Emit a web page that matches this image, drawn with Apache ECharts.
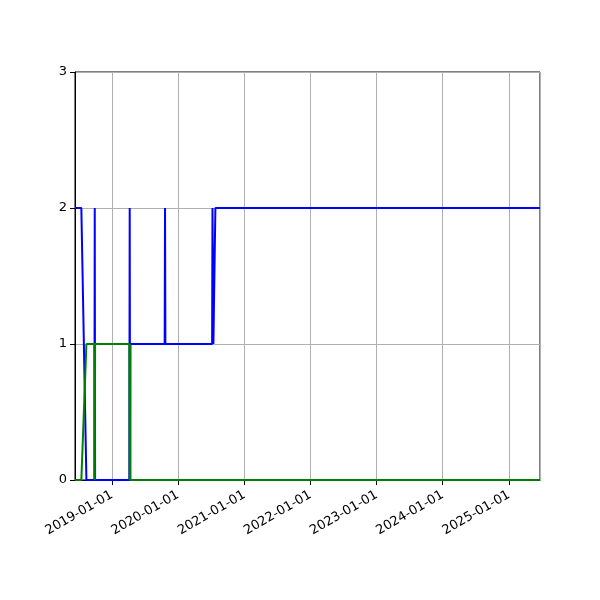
<!DOCTYPE html>
<html>
<head>
<meta charset="utf-8">
<script src="https://cdn.jsdelivr.net/npm/echarts@6/dist/echarts.min.js"></script>
<style>
  html, body { margin: 0; padding: 0; background: #fff; }
  #chart { width: 600px; height: 600px; }
</style>
</head>
<body>
<div id="chart"></div>
<script>
// dates shared by both lines
var dates = [
    '2018-06-11', '2018-07-16', '2018-08-13', '2018-09-26', '2018-09-28', '2018-09-30',
    '2019-04-07', '2019-04-09', '2019-04-11', '2019-04-13',
    '2019-10-19', '2019-10-21', '2019-10-23',
    '2020-07-07', '2020-07-09', '2020-07-14', '2020-07-22', '2020-07-25',
    '2025-06-21'
];
var blueValues  = [2, 2, 0, 0, 2, 0, 0, 2, 0, 1, 1, 2, 1, 1, 2, 1, 1, 2, 2];
var greenValues = [0, 0, 1, 1, 0, 1, 1, 0, 1, 0, 0, 0, 0, 0, 0, 0, 0, 0, 0];
var yTicks = [0, 1, 2, 3];
var xMin = '2018-06-11';
var xMax = '2025-06-21';

function pairs(values) {
    return dates.map(function (d, i) { return [d, values[i]]; });
}

function pad(n) { return n < 10 ? '0' + n : '' + n; }

var chart = echarts.init(document.getElementById('chart'));
var option = {
    animation: false,
    backgroundColor: '#fff',
    grid: {
        left: 75, right: 60, top: 72, bottom: 120,
        show: true,
        borderColor: '#000',
        borderWidth: 1
    },
    xAxis: {
        type: 'time',
        min: xMin,
        max: xMax,
        minInterval: 365 * 24 * 3600 * 1000,
        splitNumber: 7,
        axisLine: { show: true, lineStyle: { color: '#000', width: 1 } },
        axisTick: { show: true, length: 5, lineStyle: { color: '#000' } },
        splitLine: { show: true, lineStyle: { color: '#b0b0b0', width: 1 } },
        axisLabel: {
            rotate: 30,
            color: '#000',
            fontSize: 13,
            fontFamily: 'DejaVu Sans',
            margin: 14,
            showMinLabel: false,
            showMaxLabel: false,
            formatter: function (v) {
                var d = new Date(v);
                return d.getFullYear() + '-' + pad(d.getMonth() + 1) + '-' + pad(d.getDate());
            }
        }
    },
    yAxis: {
        type: 'value',
        min: yTicks[0],
        max: yTicks[yTicks.length - 1],
        interval: 1,
        axisLine: { show: true, lineStyle: { color: '#000', width: 1 } },
        axisTick: { show: true, length: 5, lineStyle: { color: '#000' } },
        splitLine: { show: true, lineStyle: { color: '#b0b0b0', width: 1 } },
        axisLabel: {
            color: '#000',
            fontSize: 13,
            fontFamily: 'DejaVu Sans',
            margin: 8
        }
    },
    series: [
        {
            name: 'blue',
            type: 'line',
            data: pairs(blueValues),
            showSymbol: false,
            lineStyle: { color: '#0000ff', width: 2 },
            itemStyle: { color: '#0000ff' },
            z: 2
        },
        {
            name: 'green',
            type: 'line',
            data: pairs(greenValues),
            showSymbol: false,
            lineStyle: { color: '#008000', width: 2 },
            itemStyle: { color: '#008000' },
            z: 3
        }
    ]
};
chart.setOption(option);
</script>
</body>
</html>
